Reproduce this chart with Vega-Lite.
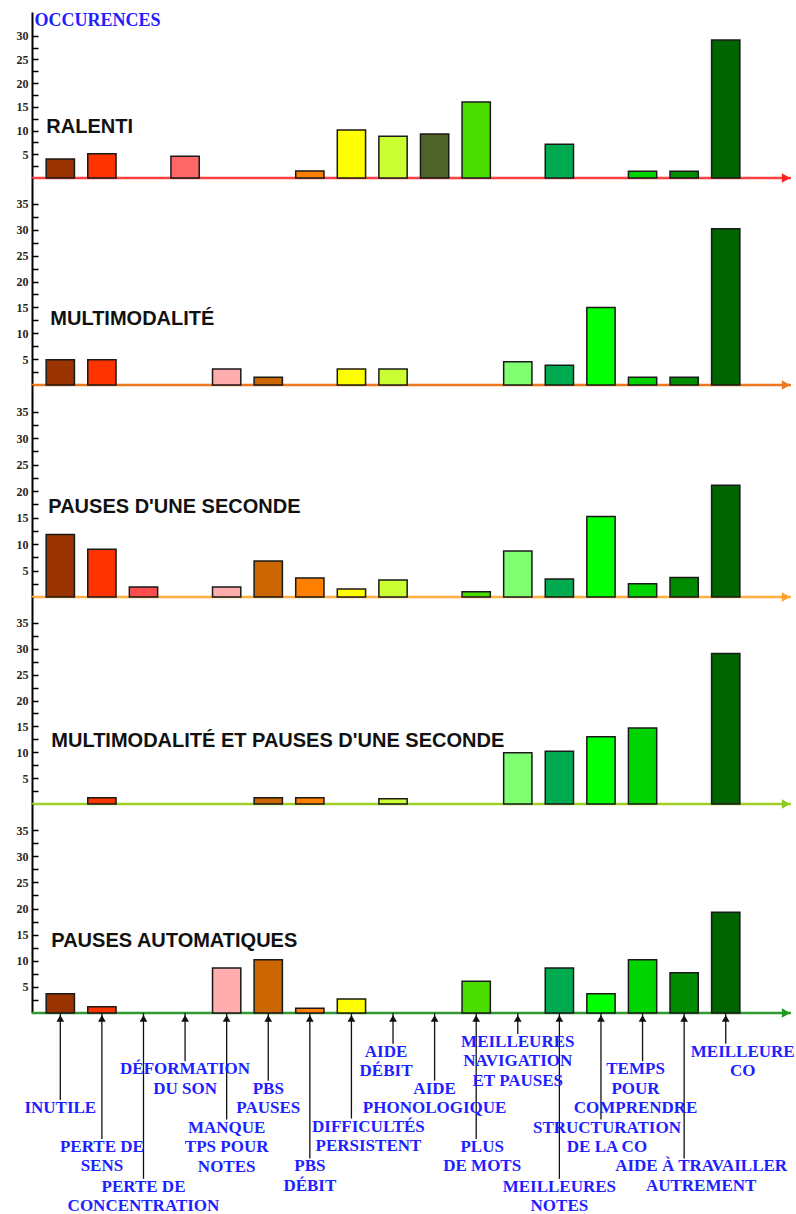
{
  "$schema": "https://vega.github.io/schema/vega-lite/v6.json",
  "padding": {"left": 16, "top": 11, "right": 0, "bottom": 0},
  "spacing": 0,
  "bounds": "flush",
  "config": {
    "view": {"stroke": null},
    "axis": {"domainColor": "black", "domainWidth": 2, "tickColor": "black", "tickWidth": 1.5, "tickSize": -6, "tickCount": 40, "labelPadding": 10, "labelOverlap": false, "labelFlush": false, "labelBound": false, "labelFont": "Liberation Serif", "labelFontWeight": "bold", "labelFontSize": 12, "labelColor": "#2a2418", "grid": false}
  },
  "datasets": {
    "counts": [
      {"panel": "p1", "cat": "INUTILE", "n": 4.0},
      {"panel": "p1", "cat": "PERTE DE SENS", "n": 5.1},
      {"panel": "p1", "cat": "DÉFORMATION DU SON", "n": 4.6},
      {"panel": "p1", "cat": "PBS DÉBIT", "n": 1.5},
      {"panel": "p1", "cat": "DIFFICULTÉS PERSISTENT", "n": 10.1},
      {"panel": "p1", "cat": "AIDE DÉBIT", "n": 8.8},
      {"panel": "p1", "cat": "AIDE PHONOLOGIQUE", "n": 9.3},
      {"panel": "p1", "cat": "PLUS DE MOTS", "n": 16.0},
      {"panel": "p1", "cat": "MEILLEURES NOTES", "n": 7.1},
      {"panel": "p1", "cat": "TEMPS POUR COMPRENDRE", "n": 1.4},
      {"panel": "p1", "cat": "AIDE À TRAVAILLER AUTREMENT", "n": 1.4},
      {"panel": "p1", "cat": "MEILLEURE CO", "n": 29.1},
      {"panel": "p2", "cat": "INUTILE", "n": 4.9},
      {"panel": "p2", "cat": "PERTE DE SENS", "n": 4.9},
      {"panel": "p2", "cat": "MANQUE TPS POUR NOTES", "n": 3.1},
      {"panel": "p2", "cat": "PBS PAUSES", "n": 1.5},
      {"panel": "p2", "cat": "DIFFICULTÉS PERSISTENT", "n": 3.1},
      {"panel": "p2", "cat": "AIDE DÉBIT", "n": 3.1},
      {"panel": "p2", "cat": "MEILLEURES NAVIGATION ET PAUSES", "n": 4.5},
      {"panel": "p2", "cat": "MEILLEURES NOTES", "n": 3.8},
      {"panel": "p2", "cat": "STRUCTURATION DE LA CO", "n": 15.0},
      {"panel": "p2", "cat": "TEMPS POUR COMPRENDRE", "n": 1.5},
      {"panel": "p2", "cat": "AIDE À TRAVAILLER AUTREMENT", "n": 1.5},
      {"panel": "p2", "cat": "MEILLEURE CO", "n": 30.2},
      {"panel": "p3", "cat": "INUTILE", "n": 11.8},
      {"panel": "p3", "cat": "PERTE DE SENS", "n": 9.0},
      {"panel": "p3", "cat": "PERTE DE CONCENTRATION", "n": 1.9},
      {"panel": "p3", "cat": "MANQUE TPS POUR NOTES", "n": 1.9},
      {"panel": "p3", "cat": "PBS PAUSES", "n": 6.8},
      {"panel": "p3", "cat": "PBS DÉBIT", "n": 3.6},
      {"panel": "p3", "cat": "DIFFICULTÉS PERSISTENT", "n": 1.5},
      {"panel": "p3", "cat": "AIDE DÉBIT", "n": 3.2},
      {"panel": "p3", "cat": "PLUS DE MOTS", "n": 1.0},
      {"panel": "p3", "cat": "MEILLEURES NAVIGATION ET PAUSES", "n": 8.7},
      {"panel": "p3", "cat": "MEILLEURES NOTES", "n": 3.4},
      {"panel": "p3", "cat": "STRUCTURATION DE LA CO", "n": 15.2},
      {"panel": "p3", "cat": "TEMPS POUR COMPRENDRE", "n": 2.5},
      {"panel": "p3", "cat": "AIDE À TRAVAILLER AUTREMENT", "n": 3.7},
      {"panel": "p3", "cat": "MEILLEURE CO", "n": 21.1},
      {"panel": "p4", "cat": "PERTE DE SENS", "n": 1.2},
      {"panel": "p4", "cat": "PBS PAUSES", "n": 1.2},
      {"panel": "p4", "cat": "PBS DÉBIT", "n": 1.2},
      {"panel": "p4", "cat": "AIDE DÉBIT", "n": 1.0},
      {"panel": "p4", "cat": "MEILLEURES NAVIGATION ET PAUSES", "n": 9.9},
      {"panel": "p4", "cat": "MEILLEURES NOTES", "n": 10.2},
      {"panel": "p4", "cat": "STRUCTURATION DE LA CO", "n": 13.0},
      {"panel": "p4", "cat": "TEMPS POUR COMPRENDRE", "n": 14.7},
      {"panel": "p4", "cat": "MEILLEURE CO", "n": 29.1},
      {"panel": "p5", "cat": "INUTILE", "n": 3.7},
      {"panel": "p5", "cat": "PERTE DE SENS", "n": 1.2},
      {"panel": "p5", "cat": "MANQUE TPS POUR NOTES", "n": 8.6},
      {"panel": "p5", "cat": "PBS PAUSES", "n": 10.2},
      {"panel": "p5", "cat": "PBS DÉBIT", "n": 0.9},
      {"panel": "p5", "cat": "DIFFICULTÉS PERSISTENT", "n": 2.7},
      {"panel": "p5", "cat": "PLUS DE MOTS", "n": 6.1},
      {"panel": "p5", "cat": "MEILLEURES NOTES", "n": 8.6},
      {"panel": "p5", "cat": "STRUCTURATION DE LA CO", "n": 3.7},
      {"panel": "p5", "cat": "TEMPS POUR COMPRENDRE", "n": 10.2},
      {"panel": "p5", "cat": "AIDE À TRAVAILLER AUTREMENT", "n": 7.7},
      {"panel": "p5", "cat": "MEILLEURE CO", "n": 19.3}
    ],
    "labels": [
      {"cat": "INUTILE", "label": ["INUTILE"], "tier": 2.9},
      {"cat": "PERTE DE SENS", "label": ["PERTE DE", "SENS"], "tier": 4.9},
      {"cat": "PERTE DE CONCENTRATION", "label": ["PERTE DE", "CONCENTRATION"], "tier": 6.95},
      {"cat": "DÉFORMATION DU SON", "label": ["DÉFORMATION", "DU SON"], "tier": 0.9},
      {"cat": "MANQUE TPS POUR NOTES", "label": ["MANQUE", "TPS POUR", "NOTES"], "tier": 3.9},
      {"cat": "PBS PAUSES", "label": ["PBS", "PAUSES"], "tier": 1.9},
      {"cat": "PBS DÉBIT", "label": ["PBS", "DÉBIT"], "tier": 5.9},
      {"cat": "DIFFICULTÉS PERSISTENT", "label": ["DIFFICULTÉS", "PERSISTENT"], "tier": 3.85},
      {"cat": "AIDE DÉBIT", "label": ["AIDE", "DÉBIT"], "tier": 0},
      {"cat": "AIDE PHONOLOGIQUE", "label": ["AIDE", "PHONOLOGIQUE"], "tier": 1.9},
      {"cat": "PLUS DE MOTS", "label": ["PLUS", "DE MOTS"], "tier": 4.9},
      {"cat": "MEILLEURES NAVIGATION ET PAUSES", "label": ["MEILLEURES", "NAVIGATION", "ET PAUSES"], "tier": -0.5},
      {"cat": "MEILLEURES NOTES", "label": ["MEILLEURES", "NOTES"], "tier": 6.95},
      {"cat": "STRUCTURATION DE LA CO", "label": ["STRUCTURATION", "DE LA CO"], "tier": 3.9},
      {"cat": "TEMPS POUR COMPRENDRE", "label": ["TEMPS", "POUR", "COMPRENDRE"], "tier": 0.9},
      {"cat": "AIDE À TRAVAILLER AUTREMENT", "label": ["AIDE À TRAVAILLER", "AUTREMENT"], "tier": 5.9},
      {"cat": "MEILLEURE CO", "label": ["MEILLEURE", "CO"], "tier": 0}
    ]
  },
  "vconcat": [
    {
      "width": 759, "height": 166,
      "layer": [
        {"data": {"values": [{}]}, "mark": {"type": "rule", "color": "#FF4040", "strokeWidth": 2.5}, "encoding": {"y": {"datum": 0, "type": "quantitative", "scale": {"domain": [0, 30.2]}}}},
        {"data": {"name": "counts"}, "transform": [{"filter": "datum.panel === 'p1'"}],
         "mark": {"type": "bar", "stroke": "#1a1a1a", "strokeWidth": 1.5},
         "encoding": {
           "x": {"field": "cat", "type": "nominal", "scale": {"domain": ["INUTILE","PERTE DE SENS","PERTE DE CONCENTRATION","DÉFORMATION DU SON","MANQUE TPS POUR NOTES","PBS PAUSES","PBS DÉBIT","DIFFICULTÉS PERSISTENT","AIDE DÉBIT","AIDE PHONOLOGIQUE","PLUS DE MOTS","MEILLEURES NAVIGATION ET PAUSES","MEILLEURES NOTES","STRUCTURATION DE LA CO","TEMPS POUR COMPRENDRE","AIDE À TRAVAILLER AUTREMENT","MEILLEURE CO"], "paddingInner": 0.32, "paddingOuter": 0.785, "align": 0.217}, "axis": null},
           "y": {"field": "n", "type": "quantitative", "scale": {"domain": [0, 30.2]}, "axis": {"values": [2.5,5,7.5,10,12.5,15,17.5,20,22.5,25,27.5,30], "tickCount": 40, "labelExpr": "datum.value % 5 === 0 ? datum.label : ''", "title": "OCCURENCES", "titleAngle": 0, "titleAlign": "left", "titleBaseline": "middle", "titleX": 2, "titleY": 8, "titleColor": "#2020FF", "titleFont": "Liberation Serif", "titleFontSize": 18, "titleFontWeight": "bold"}},
           "fill": {"field": "cat", "type": "nominal", "scale": {"domain": ["INUTILE","PERTE DE SENS","PERTE DE CONCENTRATION","DÉFORMATION DU SON","MANQUE TPS POUR NOTES","PBS PAUSES","PBS DÉBIT","DIFFICULTÉS PERSISTENT","AIDE DÉBIT","AIDE PHONOLOGIQUE","PLUS DE MOTS","MEILLEURES NAVIGATION ET PAUSES","MEILLEURES NOTES","STRUCTURATION DE LA CO","TEMPS POUR COMPRENDRE","AIDE À TRAVAILLER AUTREMENT","MEILLEURE CO"], "range": ["#993300","#FF3300","#FF4D4D","#FF6666","#FFADAD","#CC6600","#FF7F00","#FFFF00","#CCFF33","#4F6228","#4CDD00","#80FF70","#00AA4E","#00FF00","#00D400","#008C00","#006400"]}, "legend": null}
         }},
        {"data": {"values": [{}]}, "mark": {"type": "point", "shape": "triangle-right", "filled": true, "size": 90, "color": "#FF2020", "opacity": 1, "xOffset": -5}, "encoding": {"x": {"value": "width"}, "y": {"datum": 0, "type": "quantitative"}}},
        {"data": {"values": [{}]}, "mark": {"type": "text", "align": "left", "baseline": "middle", "dx": -14, "font": "Liberation Sans", "fontWeight": "bold", "fontSize": 20, "color": "#111111"}, "encoding": {"x": {"datum": "INUTILE", "type": "nominal"}, "y": {"datum": 10.85, "type": "quantitative"}, "text": {"value": "RALENTI"}}}
      ]
    },
    {
      "width": 759, "height": 207,
      "layer": [
        {"data": {"values": [{}]}, "mark": {"type": "rule", "color": "#EE7722", "strokeWidth": 2.5}, "encoding": {"y": {"datum": 0, "type": "quantitative", "scale": {"domain": [0, 37.64]}}}},
        {"data": {"name": "counts"}, "transform": [{"filter": "datum.panel === 'p2'"}],
         "mark": {"type": "bar", "stroke": "#1a1a1a", "strokeWidth": 1.5},
         "encoding": {
           "x": {"field": "cat", "type": "nominal", "scale": {"domain": ["INUTILE","PERTE DE SENS","PERTE DE CONCENTRATION","DÉFORMATION DU SON","MANQUE TPS POUR NOTES","PBS PAUSES","PBS DÉBIT","DIFFICULTÉS PERSISTENT","AIDE DÉBIT","AIDE PHONOLOGIQUE","PLUS DE MOTS","MEILLEURES NAVIGATION ET PAUSES","MEILLEURES NOTES","STRUCTURATION DE LA CO","TEMPS POUR COMPRENDRE","AIDE À TRAVAILLER AUTREMENT","MEILLEURE CO"], "paddingInner": 0.32, "paddingOuter": 0.785, "align": 0.217}, "axis": null},
           "y": {"field": "n", "type": "quantitative", "scale": {"domain": [0, 37.64]}, "axis": {"values": [2.5,5,7.5,10,12.5,15,17.5,20,22.5,25,27.5,30,32.5,35], "tickCount": 40, "labelExpr": "datum.value % 5 === 0 ? datum.label : ''", "title": null}},
           "fill": {"field": "cat", "type": "nominal", "scale": {"domain": ["INUTILE","PERTE DE SENS","PERTE DE CONCENTRATION","DÉFORMATION DU SON","MANQUE TPS POUR NOTES","PBS PAUSES","PBS DÉBIT","DIFFICULTÉS PERSISTENT","AIDE DÉBIT","AIDE PHONOLOGIQUE","PLUS DE MOTS","MEILLEURES NAVIGATION ET PAUSES","MEILLEURES NOTES","STRUCTURATION DE LA CO","TEMPS POUR COMPRENDRE","AIDE À TRAVAILLER AUTREMENT","MEILLEURE CO"], "range": ["#993300","#FF3300","#FF4D4D","#FF6666","#FFADAD","#CC6600","#FF7F00","#FFFF00","#CCFF33","#4F6228","#4CDD00","#80FF70","#00AA4E","#00FF00","#00D400","#008C00","#006400"]}, "legend": null}
         }},
        {"data": {"values": [{}]}, "mark": {"type": "point", "shape": "triangle-right", "filled": true, "size": 90, "color": "#EE7722", "opacity": 1, "xOffset": -5}, "encoding": {"x": {"value": "width"}, "y": {"datum": 0, "type": "quantitative"}}},
        {"data": {"values": [{}]}, "mark": {"type": "text", "align": "left", "baseline": "middle", "dx": -10, "font": "Liberation Sans", "fontWeight": "bold", "fontSize": 20, "color": "#111111"}, "encoding": {"x": {"datum": "INUTILE", "type": "nominal"}, "y": {"datum": 12.7, "type": "quantitative"}, "text": {"value": "MULTIMODALITÉ"}}}
      ]
    },
    {
      "width": 759, "height": 212,
      "layer": [
        {"data": {"values": [{}]}, "mark": {"type": "rule", "color": "#FFB040", "strokeWidth": 2.5}, "encoding": {"y": {"datum": 0, "type": "quantitative", "scale": {"domain": [0, 38.55]}}}},
        {"data": {"name": "counts"}, "transform": [{"filter": "datum.panel === 'p3'"}],
         "mark": {"type": "bar", "stroke": "#1a1a1a", "strokeWidth": 1.5},
         "encoding": {
           "x": {"field": "cat", "type": "nominal", "scale": {"domain": ["INUTILE","PERTE DE SENS","PERTE DE CONCENTRATION","DÉFORMATION DU SON","MANQUE TPS POUR NOTES","PBS PAUSES","PBS DÉBIT","DIFFICULTÉS PERSISTENT","AIDE DÉBIT","AIDE PHONOLOGIQUE","PLUS DE MOTS","MEILLEURES NAVIGATION ET PAUSES","MEILLEURES NOTES","STRUCTURATION DE LA CO","TEMPS POUR COMPRENDRE","AIDE À TRAVAILLER AUTREMENT","MEILLEURE CO"], "paddingInner": 0.32, "paddingOuter": 0.785, "align": 0.217}, "axis": null},
           "y": {"field": "n", "type": "quantitative", "scale": {"domain": [0, 38.55]}, "axis": {"values": [2.5,5,7.5,10,12.5,15,17.5,20,22.5,25,27.5,30,32.5,35], "tickCount": 40, "labelExpr": "datum.value % 5 === 0 ? datum.label : ''", "title": null}},
           "fill": {"field": "cat", "type": "nominal", "scale": {"domain": ["INUTILE","PERTE DE SENS","PERTE DE CONCENTRATION","DÉFORMATION DU SON","MANQUE TPS POUR NOTES","PBS PAUSES","PBS DÉBIT","DIFFICULTÉS PERSISTENT","AIDE DÉBIT","AIDE PHONOLOGIQUE","PLUS DE MOTS","MEILLEURES NAVIGATION ET PAUSES","MEILLEURES NOTES","STRUCTURATION DE LA CO","TEMPS POUR COMPRENDRE","AIDE À TRAVAILLER AUTREMENT","MEILLEURE CO"], "range": ["#993300","#FF3300","#FF4D4D","#FF6666","#FFADAD","#CC6600","#FF7F00","#FFFF00","#CCFF33","#4F6228","#4CDD00","#80FF70","#00AA4E","#00FF00","#00D400","#008C00","#006400"]}, "legend": null}
         }},
        {"data": {"values": [{}]}, "mark": {"type": "point", "shape": "triangle-right", "filled": true, "size": 90, "color": "#FFA030", "opacity": 1, "xOffset": -5}, "encoding": {"x": {"value": "width"}, "y": {"datum": 0, "type": "quantitative"}}},
        {"data": {"values": [{}]}, "mark": {"type": "text", "align": "left", "baseline": "middle", "dx": -12, "font": "Liberation Sans", "fontWeight": "bold", "fontSize": 20, "color": "#111111"}, "encoding": {"x": {"datum": "INUTILE", "type": "nominal"}, "y": {"datum": 17.0, "type": "quantitative"}, "text": {"value": "PAUSES D'UNE SECONDE"}}}
      ]
    },
    {
      "width": 759, "height": 207,
      "layer": [
        {"data": {"values": [{}]}, "mark": {"type": "rule", "color": "#A0D028", "strokeWidth": 2.5}, "encoding": {"y": {"datum": 0, "type": "quantitative", "scale": {"domain": [0, 37.64]}}}},
        {"data": {"name": "counts"}, "transform": [{"filter": "datum.panel === 'p4'"}],
         "mark": {"type": "bar", "stroke": "#1a1a1a", "strokeWidth": 1.5},
         "encoding": {
           "x": {"field": "cat", "type": "nominal", "scale": {"domain": ["INUTILE","PERTE DE SENS","PERTE DE CONCENTRATION","DÉFORMATION DU SON","MANQUE TPS POUR NOTES","PBS PAUSES","PBS DÉBIT","DIFFICULTÉS PERSISTENT","AIDE DÉBIT","AIDE PHONOLOGIQUE","PLUS DE MOTS","MEILLEURES NAVIGATION ET PAUSES","MEILLEURES NOTES","STRUCTURATION DE LA CO","TEMPS POUR COMPRENDRE","AIDE À TRAVAILLER AUTREMENT","MEILLEURE CO"], "paddingInner": 0.32, "paddingOuter": 0.785, "align": 0.217}, "axis": null},
           "y": {"field": "n", "type": "quantitative", "scale": {"domain": [0, 37.64]}, "axis": {"values": [2.5,5,7.5,10,12.5,15,17.5,20,22.5,25,27.5,30,32.5,35], "tickCount": 40, "labelExpr": "datum.value % 5 === 0 ? datum.label : ''", "title": null}},
           "fill": {"field": "cat", "type": "nominal", "scale": {"domain": ["INUTILE","PERTE DE SENS","PERTE DE CONCENTRATION","DÉFORMATION DU SON","MANQUE TPS POUR NOTES","PBS PAUSES","PBS DÉBIT","DIFFICULTÉS PERSISTENT","AIDE DÉBIT","AIDE PHONOLOGIQUE","PLUS DE MOTS","MEILLEURES NAVIGATION ET PAUSES","MEILLEURES NOTES","STRUCTURATION DE LA CO","TEMPS POUR COMPRENDRE","AIDE À TRAVAILLER AUTREMENT","MEILLEURE CO"], "range": ["#993300","#FF3300","#FF4D4D","#FF6666","#FFADAD","#CC6600","#FF7F00","#FFFF00","#CCFF33","#4F6228","#4CDD00","#80FF70","#00AA4E","#00FF00","#00D400","#008C00","#006400"]}, "legend": null}
         }},
        {"data": {"values": [{}]}, "mark": {"type": "point", "shape": "triangle-right", "filled": true, "size": 90, "color": "#90C820", "opacity": 1, "xOffset": -5}, "encoding": {"x": {"value": "width"}, "y": {"datum": 0, "type": "quantitative"}}},
        {"data": {"values": [{}]}, "mark": {"type": "text", "align": "left", "baseline": "middle", "dx": -9, "font": "Liberation Sans", "fontWeight": "bold", "fontSize": 20, "color": "#111111"}, "encoding": {"x": {"datum": "INUTILE", "type": "nominal"}, "y": {"datum": 12.2, "type": "quantitative"}, "text": {"value": "MULTIMODALITÉ ET PAUSES D'UNE SECONDE"}}}
      ]
    },
    {
      "width": 759, "height": 209,
      "layer": [
        {"data": {"values": [{}]}, "mark": {"type": "rule", "color": "#339933", "strokeWidth": 2.5}, "encoding": {"y": {"datum": 0, "type": "quantitative", "scale": {"domain": [0, 38.0]}}}},
        {"data": {"name": "counts"}, "transform": [{"filter": "datum.panel === 'p5'"}],
         "mark": {"type": "bar", "stroke": "#1a1a1a", "strokeWidth": 1.5},
         "encoding": {
           "x": {"field": "cat", "type": "nominal", "scale": {"domain": ["INUTILE","PERTE DE SENS","PERTE DE CONCENTRATION","DÉFORMATION DU SON","MANQUE TPS POUR NOTES","PBS PAUSES","PBS DÉBIT","DIFFICULTÉS PERSISTENT","AIDE DÉBIT","AIDE PHONOLOGIQUE","PLUS DE MOTS","MEILLEURES NAVIGATION ET PAUSES","MEILLEURES NOTES","STRUCTURATION DE LA CO","TEMPS POUR COMPRENDRE","AIDE À TRAVAILLER AUTREMENT","MEILLEURE CO"], "paddingInner": 0.32, "paddingOuter": 0.785, "align": 0.217}, "axis": null},
           "y": {"field": "n", "type": "quantitative", "scale": {"domain": [0, 38.0]}, "axis": {"values": [2.5,5,7.5,10,12.5,15,17.5,20,22.5,25,27.5,30,32.5,35], "tickCount": 40, "labelExpr": "datum.value % 5 === 0 ? datum.label : ''", "title": null}},
           "fill": {"field": "cat", "type": "nominal", "scale": {"domain": ["INUTILE","PERTE DE SENS","PERTE DE CONCENTRATION","DÉFORMATION DU SON","MANQUE TPS POUR NOTES","PBS PAUSES","PBS DÉBIT","DIFFICULTÉS PERSISTENT","AIDE DÉBIT","AIDE PHONOLOGIQUE","PLUS DE MOTS","MEILLEURES NAVIGATION ET PAUSES","MEILLEURES NOTES","STRUCTURATION DE LA CO","TEMPS POUR COMPRENDRE","AIDE À TRAVAILLER AUTREMENT","MEILLEURE CO"], "range": ["#993300","#FF3300","#FF4D4D","#FF6666","#FFADAD","#CC6600","#FF7F00","#FFFF00","#CCFF33","#4F6228","#4CDD00","#80FF70","#00AA4E","#00FF00","#00D400","#008C00","#006400"]}, "legend": null}
         }},
        {"data": {"values": [{}]}, "mark": {"type": "point", "shape": "triangle-right", "filled": true, "size": 90, "color": "#229922", "opacity": 1, "xOffset": -5}, "encoding": {"x": {"value": "width"}, "y": {"datum": 0, "type": "quantitative"}}},
        {"data": {"values": [{}]}, "mark": {"type": "text", "align": "left", "baseline": "middle", "dx": -9, "font": "Liberation Sans", "fontWeight": "bold", "fontSize": 20, "color": "#111111"}, "encoding": {"x": {"datum": "INUTILE", "type": "nominal"}, "y": {"datum": 13.7, "type": "quantitative"}, "text": {"value": "PAUSES AUTOMATIQUES"}}}
      ]
    },
    {
      "width": 759, "height": 201,
      "data": {"name": "labels"},
      "encoding": {
        "x": {"field": "cat", "type": "nominal", "scale": {"domain": ["INUTILE","PERTE DE SENS","PERTE DE CONCENTRATION","DÉFORMATION DU SON","MANQUE TPS POUR NOTES","PBS PAUSES","PBS DÉBIT","DIFFICULTÉS PERSISTENT","AIDE DÉBIT","AIDE PHONOLOGIQUE","PLUS DE MOTS","MEILLEURES NAVIGATION ET PAUSES","MEILLEURES NOTES","STRUCTURATION DE LA CO","TEMPS POUR COMPRENDRE","AIDE À TRAVAILLER AUTREMENT","MEILLEURE CO"], "paddingInner": 0.32, "paddingOuter": 0.785, "align": 0.217}, "axis": null}
      },
      "layer": [
        {"mark": {"type": "rule", "color": "#111111", "strokeWidth": 1.3},
         "encoding": {"y": {"field": "tier", "type": "quantitative", "scale": {"domain": [-1.58, 8.76], "reverse": true, "zero": false, "nice": false}, "axis": null}, "y2": {"datum": -1.58}}},
        {"mark": {"type": "point", "shape": "triangle-up", "filled": true, "size": 60, "color": "#111111", "opacity": 1},
         "encoding": {"y": {"datum": -1.3, "type": "quantitative"}}},
        {"transform": [{"filter": {"not": {"field": "cat", "oneOf": ["PLUS DE MOTS","STRUCTURATION DE LA CO","AIDE DÉBIT","TEMPS POUR COMPRENDRE","DIFFICULTÉS PERSISTENT","AIDE À TRAVAILLER AUTREMENT","MEILLEURE CO"]}}}],
         "mark": {"type": "text", "align": "center", "baseline": "top", "font": "Liberation Serif", "fontWeight": "bold", "fontSize": 17, "lineHeight": 19.5, "color": "#1E1EFF"},
         "encoding": {"y": {"field": "tier", "type": "quantitative"}, "text": {"field": "label"}}},
        {"transform": [{"filter": {"field": "cat", "oneOf": ["PLUS DE MOTS","STRUCTURATION DE LA CO"]}}],
         "mark": {"type": "text", "align": "center", "baseline": "top", "dx": 6, "font": "Liberation Serif", "fontWeight": "bold", "fontSize": 17, "lineHeight": 19.5, "color": "#1E1EFF"},
         "encoding": {"y": {"field": "tier", "type": "quantitative"}, "text": {"field": "label"}}},
        {"transform": [{"filter": {"field": "cat", "oneOf": ["AIDE DÉBIT","TEMPS POUR COMPRENDRE"]}}],
         "mark": {"type": "text", "align": "center", "baseline": "top", "dx": -7, "font": "Liberation Serif", "fontWeight": "bold", "fontSize": 17, "lineHeight": 19.5, "color": "#1E1EFF"},
         "encoding": {"y": {"field": "tier", "type": "quantitative"}, "text": {"field": "label"}}},
        {"transform": [{"filter": {"field": "cat", "oneOf": ["DIFFICULTÉS PERSISTENT","AIDE À TRAVAILLER AUTREMENT","MEILLEURE CO"]}}],
         "mark": {"type": "text", "align": "center", "baseline": "top", "dx": 17, "font": "Liberation Serif", "fontWeight": "bold", "fontSize": 17, "lineHeight": 19.5, "color": "#1E1EFF"},
         "encoding": {"y": {"field": "tier", "type": "quantitative"}, "text": {"field": "label"}}}
      ]
    }
  ]
}
